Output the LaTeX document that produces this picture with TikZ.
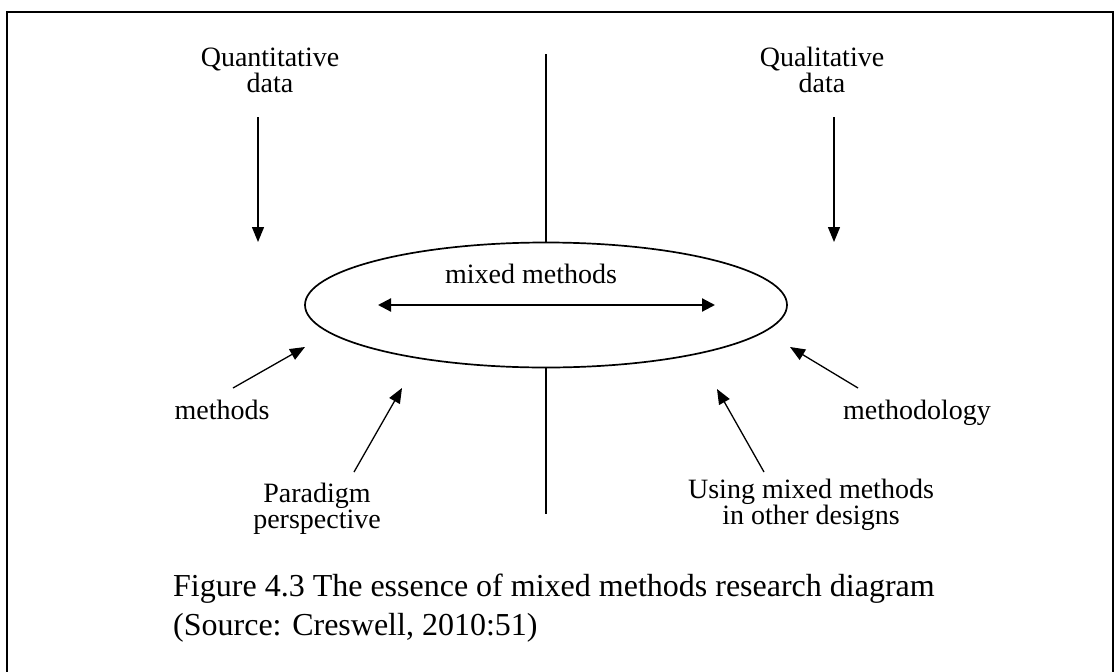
\documentclass[tikz,border=0pt]{standalone}
\usepackage{fontspec}
\setmainfont{Liberation Serif}
\usetikzlibrary{arrows.meta,shapes.geometric}
\begin{document}
\begin{tikzpicture}[x=1pt,y=-1pt,
  lab/.style={font=\fontsize{28}{26}\selectfont, align=center, inner sep=0pt},
  captext/.style={font=\fontsize{32}{39}\selectfont, align=left, inner sep=0pt},
  arr/.style={line width=1.3pt, -{Triangle[length=15pt,width=12pt]}},
  dbl/.style={line width=2.2pt, {Triangle[length=13pt,width=13pt]}-{Triangle[length=13pt,width=13pt]}},
  axisline/.style={line width=1.1pt}]
\useasboundingbox (0,0) rectangle (1114,672);
\draw[line width=1.5pt] (7,672) -- (7,12) -- (1113,12) -- (1113,672);

% central ellipse
\node[ellipse, draw, line width=1.7pt, minimum width=482, minimum height=125, inner sep=0pt] (mm) at (546,305) {};
\node[lab, anchor=base] (mmtext) at (531,283) {mixed methods};
\coordinate (mmL) at (378,305);
\coordinate (mmR) at (715,305);
\draw[dbl] (mmL) -- (mmR);

% vertical axis
\coordinate (axT) at (546,54);
\coordinate (axB) at (546,514);
\draw[axisline] (axT) -- (mm.north);
\draw[axisline] (mm.south) -- (axB);

% top labels (anchor = baseline of last line)
\node[lab, anchor=base] (quan) at (270,92) {Quantitative\\data};
\node[lab, anchor=base] (qual) at (822,92) {Qualitative\\data};
\coordinate (quanS) at (258,117); \coordinate (quanE) at (258,242);
\coordinate (qualS) at (834,117); \coordinate (qualE) at (834,242);
\draw[arr] (quanS) -- (quanE);
\draw[arr] (qualS) -- (qualE);

% side labels
\node[lab, anchor=base] (meth) at (222,419) {methods};
\node[lab, anchor=base] (methy) at (917,419) {methodology};
\coordinate (methS) at (233,388); \coordinate (methE) at (305,347);
\coordinate (methyS) at (858,388); \coordinate (methyE) at (790,347);
\draw[arr] (methS) -- (methE);
\draw[arr] (methyS) -- (methyE);

% bottom labels
\node[lab, anchor=base] (para) at (317,528) {Paradigm\\perspective};
\node[lab, anchor=base] (using) at (811,524) {Using mixed methods\\in other designs};
\coordinate (paraS) at (354,472); \coordinate (paraE) at (402,388);
\coordinate (usingS) at (764,472); \coordinate (usingE) at (717,389);
\draw[arr] (paraS) -- (paraE);
\draw[arr] (usingS) -- (usingE);

% caption
\node[captext, anchor=base west] (caption) at (173,635) {Figure 4.3 The essence of mixed methods research diagram\\(Source: Creswell, 2010:51)};
\end{tikzpicture}
\end{document}
